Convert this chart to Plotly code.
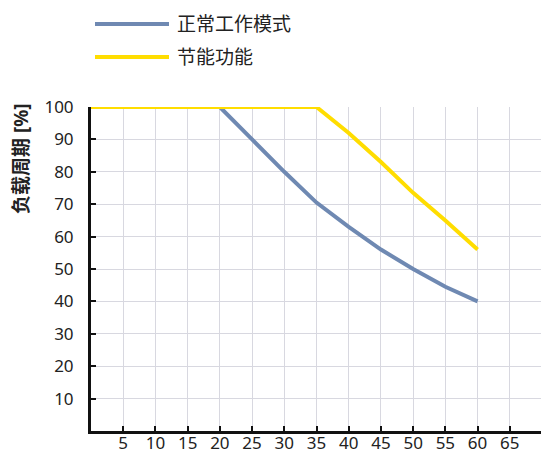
import plotly.graph_objects as go

# Data
temp = [0, 5, 10, 15, 20, 25, 30, 35, 40, 45, 50, 55, 60]
normal_mode = [100, 100, 100, 100, 100, 90, 80, 70.5, 63, 56, 50, 44.5, 40]
eco_mode = [100, 100, 100, 100, 100, 100, 100, 100, 92, 83, 73.5, 65, 56]
series_names = ["正常工作模式", "节能功能"]
x_ticks = [0, 5, 10, 15, 20, 25, 30, 35, 40, 45, 50, 55, 60, 65, 70]
y_ticks = [0, 10, 20, 30, 40, 50, 60, 70, 80, 90, 100]

BLUE = "#6F89B2"
YELLOW = "#FFDD00"
FONT = "Noto Sans, Noto Sans CJK SC, sans-serif"

fig = go.Figure()
fig.add_trace(go.Scatter(x=temp, y=normal_mode, mode="lines", name=series_names[0],
                         line=dict(color=BLUE, width=4), cliponaxis=False))
fig.add_trace(go.Scatter(x=temp, y=eco_mode, mode="lines", name=series_names[1],
                         line=dict(color=YELLOW, width=4), cliponaxis=False))

OFF = 8  # page body margin
W, H = 549 - OFF, 456 - OFF
ml, mr, mt, mb = 91 - OFF, 7, 107 - OFF, 25

fig.update_layout(
    width=W, height=H,
    margin=dict(l=ml, r=mr, t=mt, b=mb),
    paper_bgcolor="white", plot_bgcolor="white",
    showlegend=False,
    font=dict(family=FONT, size=17, color="#222222"),
)
fig.update_xaxes(
    range=[0, 70], tickvals=x_ticks,
    ticktext=["" if v in (0, 70) else str(v) for v in x_ticks],
    showgrid=True, gridcolor="#D8D8E0", gridwidth=1,
    showline=True, linecolor="#111111", linewidth=3,
    ticks="inside", ticklen=5, tickwidth=2, tickcolor="#111111",
    zeroline=False, ticklabelstandoff=-5, automargin=False,
    tickfont=dict(family=FONT, size=17, color="#222222"),
)
fig.update_yaxes(
    range=[0, 100], tickvals=y_ticks,
    ticktext=["" if v == 0 else str(v) for v in y_ticks],
    showgrid=True, gridcolor="#D8D8E0", gridwidth=1,
    showline=True, linecolor="#111111", linewidth=3,
    ticks="inside", ticklen=5, tickwidth=2, tickcolor="#111111",
    zeroline=False, ticklabelstandoff=11, automargin=False,
    tickfont=dict(family=FONT, size=17, color="#222222"),
)

pw = W - ml - mr
ph = H - mt - mb

def px_x(p):
    return (p - OFF - ml) / pw

def px_y(p):
    return (H - mb - (p - OFF)) / ph

# y-axis title
fig.add_annotation(text="<b>负载周期 [%]</b>", xref="paper", yref="paper",
                   x=px_x(21), y=px_y(159), showarrow=False, textangle=-90,
                   font=dict(family=FONT, size=19, color="#222222"),
                   xanchor="center", yanchor="middle")

# legend drawn manually
legend_rows = [(24, BLUE, series_names[0]), (57, YELLOW, series_names[1])]
for ypix, col, name in legend_rows:
    fig.add_shape(type="line", xref="paper", yref="paper",
                  x0=px_x(95), x1=px_x(169), y0=px_y(ypix), y1=px_y(ypix),
                  line=dict(color=col, width=4))
    fig.add_annotation(text=name, xref="paper", yref="paper",
                       x=px_x(175), y=px_y(ypix), showarrow=False,
                       xanchor="left", yanchor="middle",
                       font=dict(family=FONT, size=19, color="#222222"))

fig.write_html("out.html")
